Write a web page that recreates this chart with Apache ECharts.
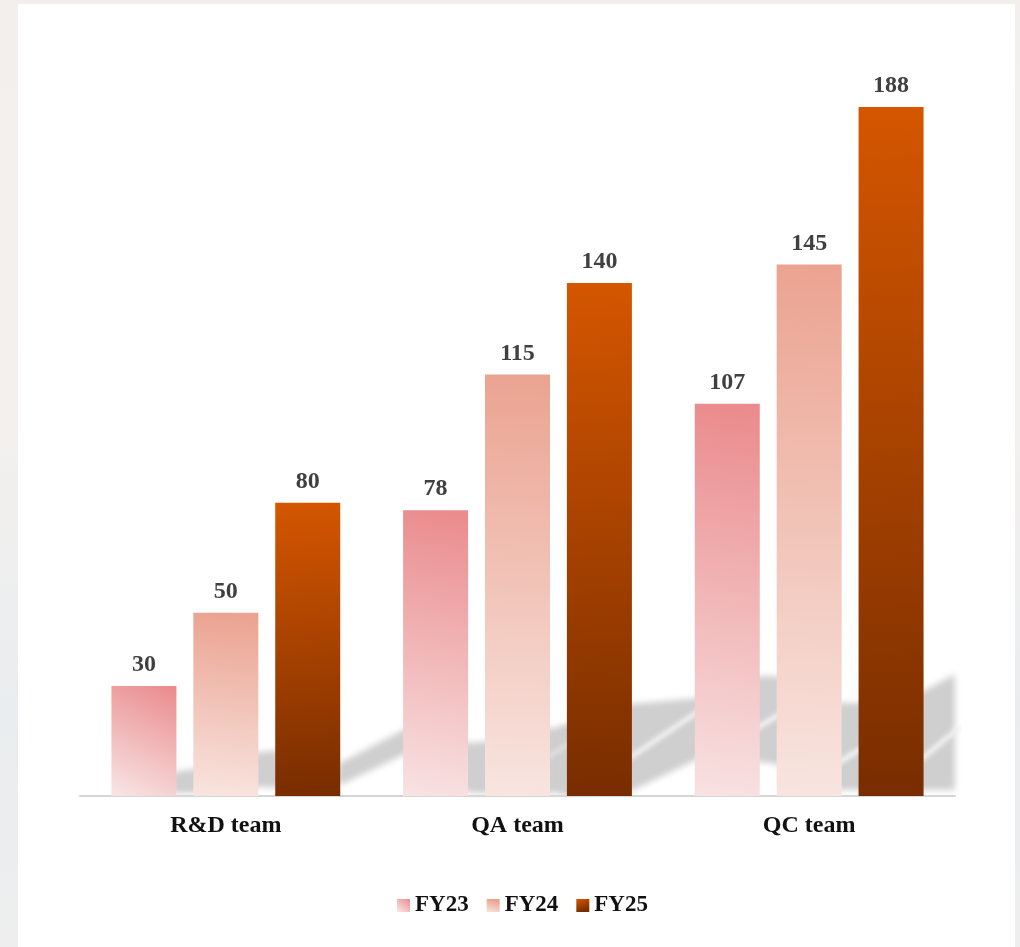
<!DOCTYPE html>
<html>
<head>
<meta charset="utf-8">
<title>Team headcount by fiscal year</title>
<script src="https://cdn.jsdelivr.net/npm/echarts@6/dist/echarts.min.js"></script>
<style>
  html, body { margin: 0; padding: 0; }
  body {
    width: 1020px; height: 947px; overflow: hidden; position: relative;
    background: linear-gradient(180deg, #f2efed 0%, #f3f0ee 45%, #eaedef 75%, #eeeeee 100%);
  }
  #card { position: absolute; left: 18px; top: 4px; width: 997px; height: 943px; background: #ffffff; }
  #chart { position: absolute; left: 0; top: 0; width: 1020px; height: 947px; }
</style>
</head>
<body>
<div id="card"></div>
<div id="chart"></div>
<script>
// Teams and yearly headcount
const teams = ['R&D team', 'QA team', 'QC team'];
const years = ['FY23', 'FY24', 'FY25'];
const fy23 = [30, 78, 107];
const fy24 = [50, 115, 145];
const fy25 = [80, 140, 188];

const serif = '"Liberation Serif", "Times New Roman", serif';

function grad(x, y, x2, y2, c0, c1) {
  return new echarts.graphic.LinearGradient(x, y, x2, y2, [
    { offset: 0, color: c0 },
    { offset: 1, color: c1 }
  ]);
}

const fills = [
  grad(1, 0, 0.2, 1, '#ea8a8c', '#f8e2e2'),
  grad(0.3, 0, 0, 1, '#eba391', '#f8e5e0'),
  grad(0, 0, 0.35, 1, '#d55600', '#782d00')
];

const seriesData = [fy23, fy24, fy25];

const chart = echarts.init(document.getElementById('chart'), null, { renderer: 'canvas' });

// Soft grey folded ribbon behind the lower part of the bars.
// Shapes are drawn far off to the right and only their blurred shadow is cast back,
// which gives the soft edges.
const OFF = 3000;
function softPolygon(points, color, blur) {
  return {
    type: 'polygon',
    silent: true,
    shape: { points: points.map(p => [p[0] + OFF, p[1]]) },
    style: { fill: color, shadowBlur: blur, shadowColor: color, shadowOffsetX: -OFF }
  };
}
function softLine(x1, y1, x2, y2, width, color, blur) {
  return {
    type: 'line',
    silent: true,
    shape: { x1: x1 + OFF, y1: y1, x2: x2 + OFF, y2: y2 },
    style: { stroke: color, lineWidth: width, shadowBlur: blur, shadowColor: color, shadowOffsetX: -OFF }
  };
}

const grey = '#cfcfcf';
const ribbon = [
  softPolygon([[172, 772], [200, 768], [258, 752], [285, 750], [285, 788], [258, 787], [200, 793], [172, 793]], grey, 6),
  softPolygon([[338, 764], [405, 729], [470, 743], [490, 741], [550, 728], [600, 724], [600, 793], [490, 793], [470, 793], [405, 754], [338, 786]], grey, 6),
  softPolygon([[560, 727], [631, 704], [700, 698], [760, 676], [776, 676], [840, 703], [857, 703], [922, 692], [955, 674], [955, 790], [857, 790], [840, 790], [776, 764], [760, 762], [700, 758], [631, 791], [560, 793]], grey, 6),
  softLine(625, 761, 702, 709, 5, '#f2f2f2', 4),
  softLine(745, 735, 792, 707, 5, '#f2f2f2', 4),
  softLine(830, 768, 872, 742, 5, '#f2f2f2', 4),
  softLine(912, 767, 960, 727, 5, '#f2f2f2', 4),
  softLine(540, 762, 575, 740, 4, '#e2e2e2', 4)
];

chart.setOption({
  animation: false,
  backgroundColor: 'transparent',
  textStyle: { fontFamily: serif },
  graphic: { elements: ribbon },
  grid: { left: 80, right: 65, top: 63, bottom: 151 },
  legend: {
    data: years,
    left: 397,
    top: 894,
    padding: 0,
    itemWidth: 13,
    itemHeight: 13,
    itemGap: 18,
    icon: 'rect',
    textStyle: { fontFamily: serif, fontWeight: 'bold', fontSize: 23, color: '#111111' }
  },
  xAxis: {
    type: 'category',
    data: teams,
    axisLine: { lineStyle: { color: '#d6d6d6', width: 2 } },
    axisTick: { show: false },
    axisLabel: { margin: 18, fontFamily: serif, fontWeight: 'bold', fontSize: 24, color: '#111111' }
  },
  yAxis: {
    type: 'value',
    min: 0,
    max: 200,
    interval: 50,
    show: false,
    splitLine: { show: false }
  },
  series: years.map((name, i) => ({
    name: name,
    type: 'bar',
    data: seriesData[i],
    barWidth: 65,
    barGap: '26%',
    itemStyle: { color: fills[i] },
    label: {
      show: true,
      position: 'top',
      distance: 9,
      fontFamily: serif,
      fontWeight: 'bold',
      fontSize: 24,
      color: '#404040'
    }
  }))
});
</script>
</body>
</html>
